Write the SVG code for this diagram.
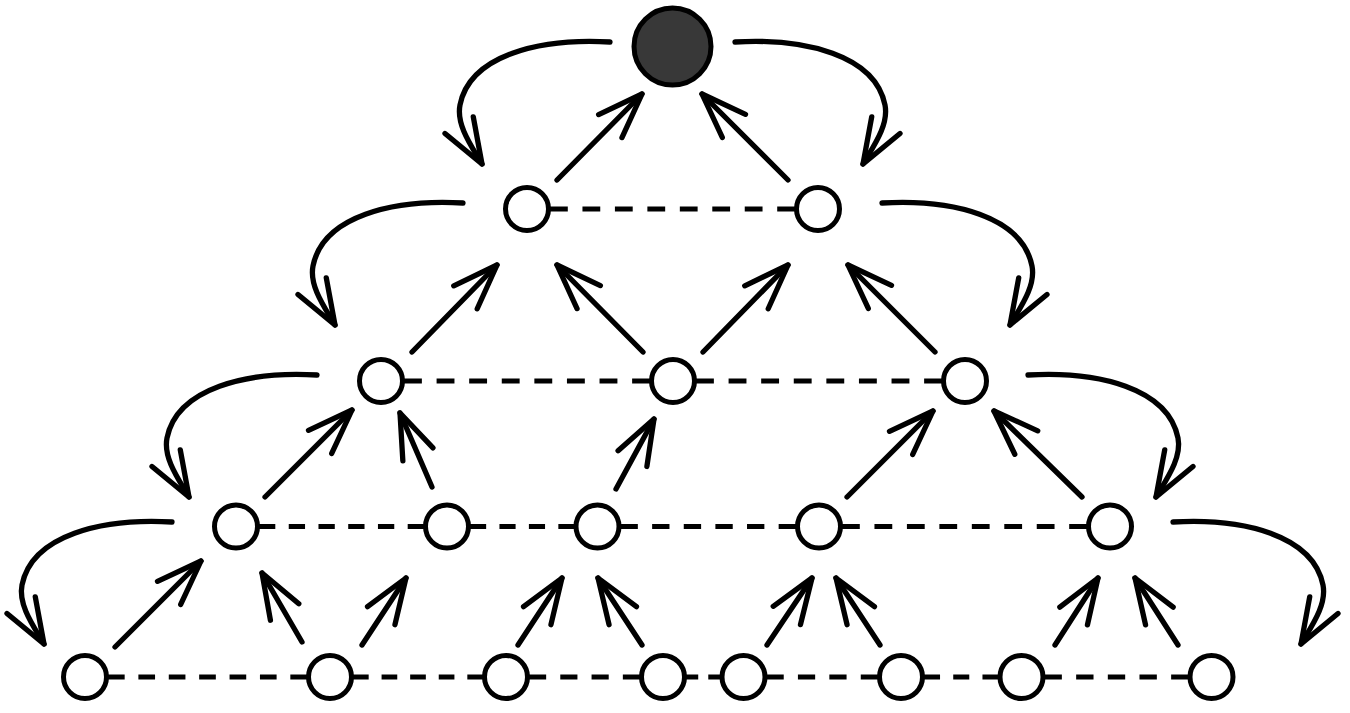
<svg xmlns="http://www.w3.org/2000/svg" width="1350" height="713" viewBox="0 0 1350 713">
<style>
.nd{fill:#fff;stroke:#000;stroke-width:5}
.top{fill:#383838;stroke:#000;stroke-width:5}
.dash{stroke:#000;stroke-width:5;stroke-dasharray:17 14;fill:none}
.arr{stroke:#000;stroke-width:5.3;fill:none;stroke-linecap:round;marker-end:url(#ah)}
</style>
<defs>
<marker id="ah" markerUnits="userSpaceOnUse" orient="auto" refX="0" refY="0" markerWidth="60" markerHeight="60" viewBox="-55 -30 60 60" overflow="visible">
<path d="M -45.1 -16.4 L 0 0 L -45.1 16.4" fill="none" stroke="#000" stroke-width="5.3" stroke-linecap="round" stroke-linejoin="round"/>
</marker>
</defs>
<rect width="1350" height="713" fill="#fff"/>
<g id="connectors">
<line class="dash" x1="550" y1="209" x2="795" y2="209" pathLength="234"/>
<line class="dash" x1="404" y1="381" x2="650" y2="381" pathLength="234"/>
<line class="dash" x1="696" y1="381" x2="942" y2="381" pathLength="234"/>
<line class="dash" x1="259" y1="526.5" x2="424" y2="526.5" pathLength="172"/>
<line class="dash" x1="470" y1="526.5" x2="574.5" y2="526.5" pathLength="110"/>
<line class="dash" x1="620.5" y1="526.5" x2="796" y2="526.5" pathLength="172"/>
<line class="dash" x1="842" y1="526.5" x2="1087" y2="526.5" pathLength="234"/>
<line class="dash" x1="108" y1="677" x2="307" y2="677" pathLength="203"/>
<line class="dash" x1="353" y1="677" x2="483" y2="677" pathLength="141"/>
<line class="dash" x1="529" y1="677" x2="640" y2="677" pathLength="110"/>
<line class="dash" x1="686" y1="677" x2="720.5" y2="677" pathLength="48"/>
<line class="dash" x1="766.5" y1="677" x2="878" y2="677" pathLength="110"/>
<line class="dash" x1="924" y1="677" x2="998.5" y2="677" pathLength="79"/>
<line class="dash" x1="1044.5" y1="677" x2="1188.5" y2="677" pathLength="141"/>

<line class="arr" x1="557" y1="180" x2="642" y2="94"/>
<line class="arr" x1="788" y1="180" x2="702" y2="94"/>
<line class="arr" x1="412" y1="352" x2="497" y2="265"/>
<line class="arr" x1="643" y1="352" x2="557" y2="265"/>
<line class="arr" x1="703" y1="352" x2="788" y2="265"/>
<line class="arr" x1="935" y1="352" x2="848" y2="265"/>
<line class="arr" x1="265" y1="497" x2="352" y2="410"/>
<line class="arr" x1="432" y1="487" x2="400" y2="413"/>
<line class="arr" x1="616" y1="489" x2="654" y2="419"/>
<line class="arr" x1="847" y1="497" x2="933" y2="411"/>
<line class="arr" x1="1082" y1="497" x2="994" y2="411"/>
<line class="arr" x1="115" y1="647" x2="201" y2="561"/>
<line class="arr" x1="302" y1="642" x2="262" y2="573"/>
<line class="arr" x1="362" y1="645" x2="406" y2="578"/>
<line class="arr" x1="518" y1="645" x2="562" y2="578"/>
<line class="arr" x1="642" y1="645" x2="598" y2="578"/>
<line class="arr" x1="767" y1="645" x2="812" y2="578"/>
<line class="arr" x1="880" y1="645" x2="836" y2="578"/>
<line class="arr" x1="1055" y1="645" x2="1098" y2="578"/>
<line class="arr" x1="1178" y1="645" x2="1135" y2="578"/>

<path class="arr" d="M 610 42 c -70 -4 -140 13 -150 63 c -4 20 12 42 22 59"/>
<path class="arr" d="M 463 203 c -70 -4 -140 13 -150 63 c -4 20 12 42 22 59"/>
<path class="arr" d="M 317 375 c -70 -4 -140 13 -150 63 c -4 20 12 42 22 59"/>
<path class="arr" d="M 172 522 c -70 -4 -140 13 -150 63 c -4 20 12 42 22 59"/>
<path class="arr" d="M 735 42 c 70 -4 140 13 150 63 c 4 20 -12 42 -22 59"/>
<path class="arr" d="M 882 203 c 70 -4 140 13 150 63 c 4 20 -12 42 -22 59"/>
<path class="arr" d="M 1028 375 c 70 -4 140 13 150 63 c 4 20 -12 42 -22 59"/>
<path class="arr" d="M 1173 522 c 70 -4 140 13 150 63 c 4 20 -12 42 -22 59"/>
</g>
<g id="n0"><circle class="top" cx="672.5" cy="46.5" r="38.5"/></g>
<g id="n1a"><circle class="nd" cx="527" cy="209" r="21.5"/></g>
<g id="n1b"><circle class="nd" cx="818" cy="209" r="21.5"/></g>
<g id="n2a"><circle class="nd" cx="381" cy="381" r="21.5"/></g>
<g id="n2b"><circle class="nd" cx="673" cy="381" r="21.5"/></g>
<g id="n2c"><circle class="nd" cx="965" cy="381" r="21.5"/></g>
<g id="n3a"><circle class="nd" cx="236" cy="526.5" r="21.5"/></g>
<g id="n3b"><circle class="nd" cx="447" cy="526.5" r="21.5"/></g>
<g id="n3c"><circle class="nd" cx="597.5" cy="526.5" r="21.5"/></g>
<g id="n3d"><circle class="nd" cx="819" cy="526.5" r="21.5"/></g>
<g id="n3e"><circle class="nd" cx="1110" cy="526.5" r="21.5"/></g>
<g id="n4a"><circle class="nd" cx="85" cy="677" r="21.5"/></g>
<g id="n4b"><circle class="nd" cx="330" cy="677" r="21.5"/></g>
<g id="n4c"><circle class="nd" cx="506" cy="677" r="21.5"/></g>
<g id="n4d"><circle class="nd" cx="663" cy="677" r="21.5"/></g>
<g id="n4e"><circle class="nd" cx="743.5" cy="677" r="21.5"/></g>
<g id="n4f"><circle class="nd" cx="901" cy="677" r="21.5"/></g>
<g id="n4g"><circle class="nd" cx="1021.5" cy="677" r="21.5"/></g>
<g id="n4h"><circle class="nd" cx="1211.5" cy="677" r="21.5"/></g>
</svg>
